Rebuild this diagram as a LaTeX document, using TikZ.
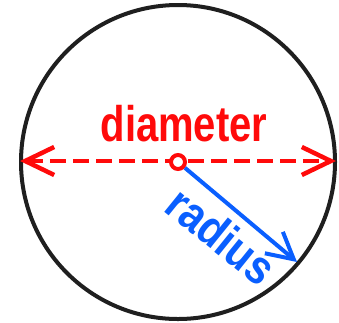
\documentclass[tikz,border=0pt]{standalone}
\usepackage{fontspec}
\setmainfont{Liberation Sans}
\usetikzlibrary{arrows.meta}
\definecolor{myred}{RGB}{255,10,10}
\definecolor{myblue}{RGB}{10,95,255}
\tikzset{
  outline/.style={draw=black!88, line width=4pt},
  diam/.style={draw=myred, line width=4.5pt, dash pattern=on 16pt off 7pt,
    {Straight Barb[length=29pt,width=28pt,line width=4.5pt]}-{Straight Barb[length=29pt,width=28pt,line width=4.5pt]}},
  rad/.style={draw=myblue, line width=4pt, -{Straight Barb[length=26pt,width=28pt,line width=4pt]}},
  centre/.style={circle, draw=myred, line width=4pt, fill=white, minimum size=14pt, inner sep=0pt},
  lbl/.style={font=\bfseries\fontsize{40}{40}\selectfont, inner sep=0pt, anchor=base}
}
\begin{document}
\begin{tikzpicture}[x=1pt,y=-1pt]
\useasboundingbox (0,0) rectangle (339,322);
\node[circle, outline, minimum size=314pt, inner sep=0pt] (O) at (178,162) {};
\coordinate (L) at (20,161);
\coordinate (R) at (336,161);
\coordinate (B) at (297,262);
\draw[diam] (L) -- (R);
\node[centre] (c) at (178,162) {};
\draw[rad] (c) -- (B);
\node[lbl, text=myred] (d) at (184,141) {\scalebox{1}[1.25]{diameter}};
\node[lbl, text=myblue, rotate=-39] (r) at (211,249) {\scalebox{1.03}[1.2]{radius}};
\end{tikzpicture}
\end{document}
